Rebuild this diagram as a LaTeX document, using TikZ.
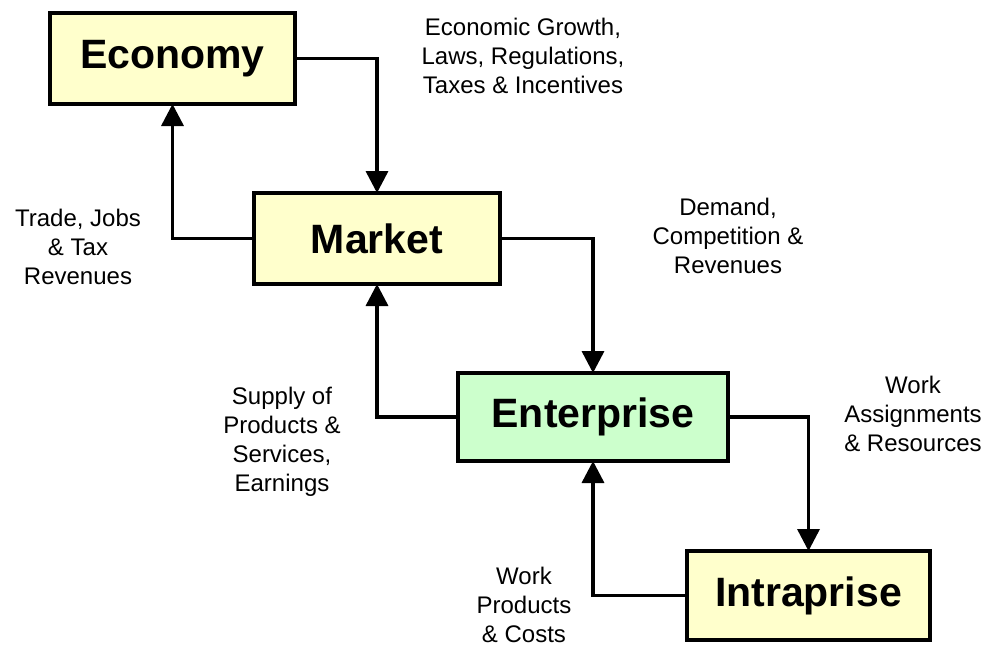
\documentclass[tikz,border=0pt]{standalone}
\usepackage{fontspec}
\setmainfont{Liberation Sans}
\usetikzlibrary{arrows.meta}

\definecolor{boxyellow}{HTML}{FFFFCC}
\definecolor{boxgreen}{HTML}{CCFFCC}

\begin{document}
\begin{tikzpicture}[x=1pt, y=-1pt,
    box/.style={draw, line width=3.5pt, outer sep=0pt, fill=boxyellow, font=\bfseries\fontsize{41}{48}\selectfont},
    note/.style={align=center, font=\fontsize{24}{29}\selectfont},
    flow/.style={line width=3.5pt, -{Triangle[length=22pt, width=22pt]}}]
                    \useasboundingbox (0,0) rectangle (987,646);
                    \node [box, minimum width=245pt, minimum height=91pt] (eco) at (172.5,58.5) {Economy};
                    \node [box, minimum width=246pt, minimum height=91pt] (mkt) at (377,238.5) {Market};
                    \node [box, fill=boxgreen, minimum width=270pt, minimum height=88pt] (ent) at (593,417) {Enterprise};
                    \node [box, minimum width=243pt, minimum height=89pt] (intra) at (808.5,595.5) {Intraprise};
                    \draw [flow] (eco.east) -| (mkt.north);
                    \draw [flow] (mkt.west) -| (eco.south);
                    \draw [flow] (mkt.east) -| (ent.north);
                    \draw [flow] (ent.west) -| (mkt.south);
                    \draw [flow] (ent.east) -| (intra.north);
                    \draw [flow] (intra.west) -| (ent.south);
                    \node [note] (growth) at (523,56) {Economic Growth,\\Laws, Regulations,\\Taxes \& Incentives};
                    \node [note] (trade) at (78,247) {Trade, Jobs\\\& Tax\\Revenues};
                    \node [note] (demand) at (728,236) {Demand,\\Competition \&\\Revenues};
                    \node [note] (supply) at (282,442) {Supply of\\Products \&\\Services,\\Earnings};
                    \node [note] (assign) at (913,414) {Work\\Assignments\\\& Resources};
                    \node [note] (costs) at (524,605) {Work\\Products\\\& Costs};
                \end{tikzpicture}
\end{document}
